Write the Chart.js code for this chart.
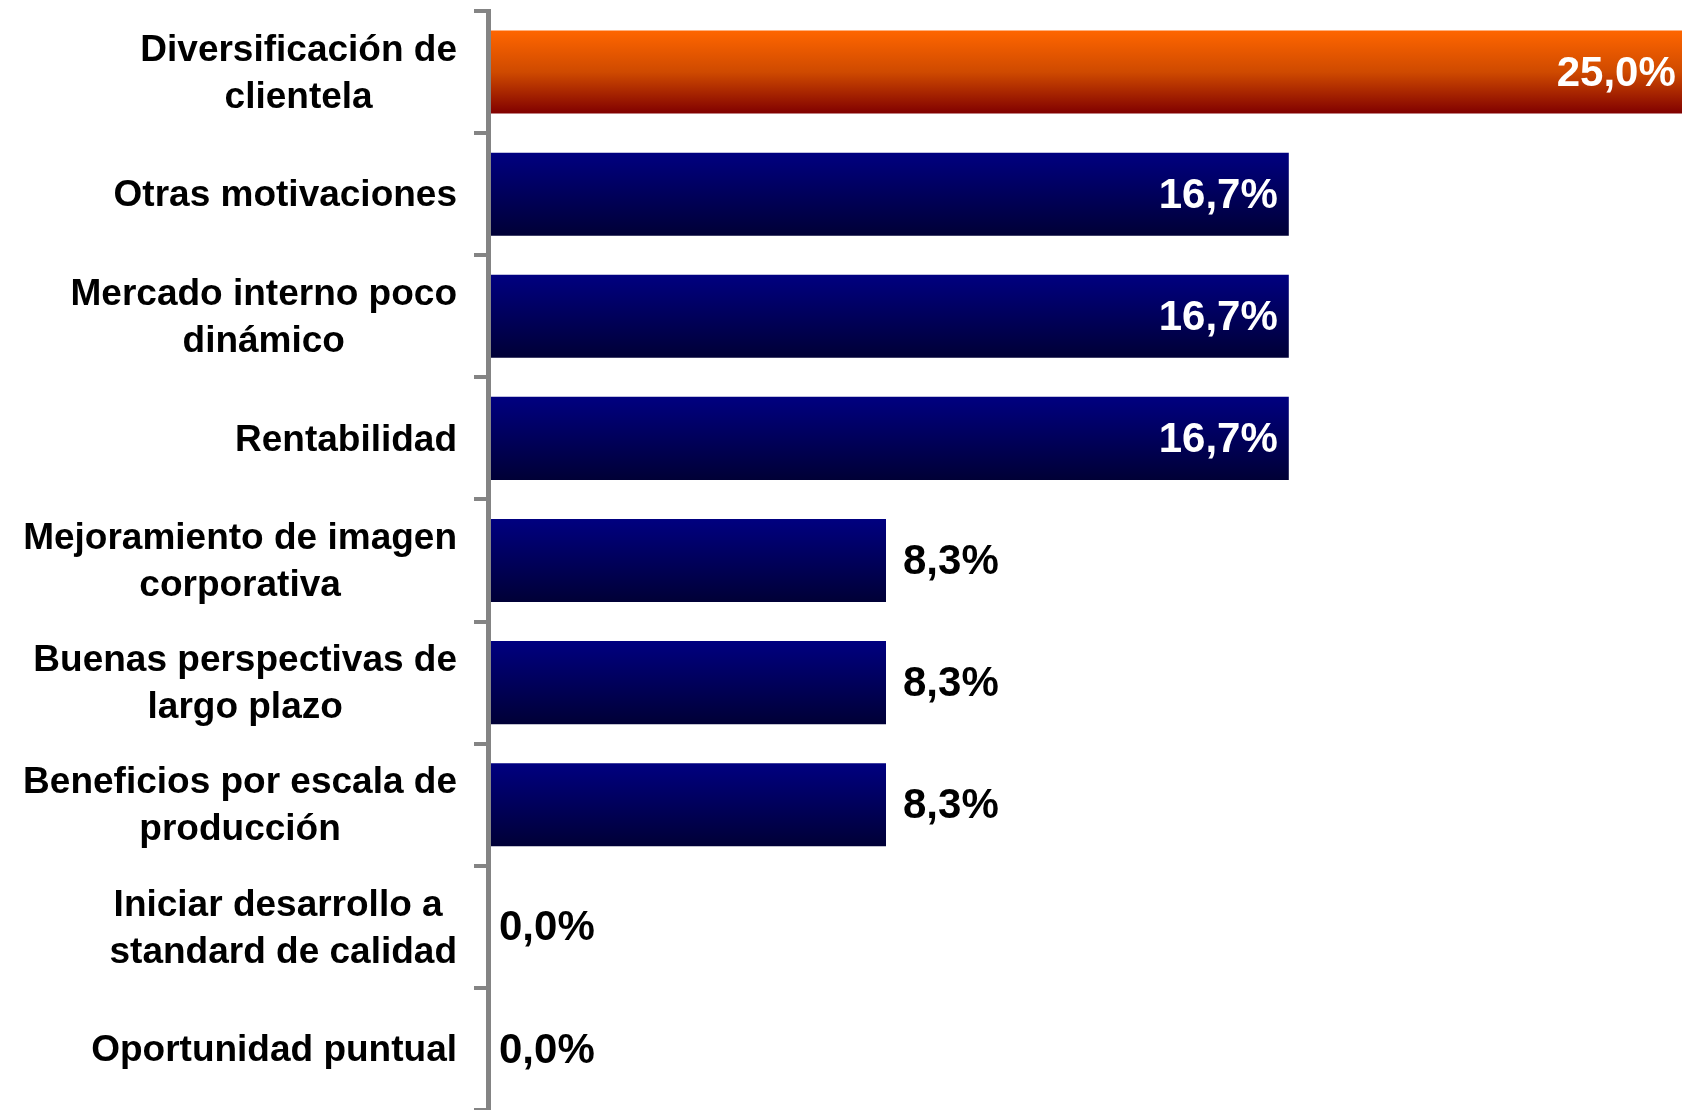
<!DOCTYPE html>
<html>
<head>
<meta charset="utf-8">
<script src="https://cdn.jsdelivr.net/npm/chart.js@4/dist/chart.umd.min.js"></script>
<style>
  html, body { margin: 0; padding: 0; background: #ffffff; }
  #wrap { width: 1682px; height: 1110px; }
</style>
</head>
<body>
<div id="wrap"><canvas id="c" width="1682" height="1110"></canvas></div>
<script>
// ---- Data ----
const categories = [
  ["Diversificación de", "clientela"],
  ["Otras motivaciones"],
  ["Mercado interno poco", "dinámico"],
  ["Rentabilidad"],
  ["Mejoramiento de imagen", "corporativa"],
  ["Buenas perspectivas de", "largo plazo"],
  ["Beneficios por escala de", "producción"],
  ["Iniciar desarrollo a ", "standard de calidad"],
  ["Oportunidad puntual"]
];
const values = [25.0, 16.7, 16.7, 16.7, 8.3, 8.3, 8.3, 0.0, 0.0];
const highlightIndex = [0];

// ---- Styles ----
const AXIS_COLOR = '#848484';
const LABEL_FONT = 'bold 37px "Liberation Sans", Arial, sans-serif';
const LABEL_LINE_HEIGHT = 47;
const VALUE_FONT = 'bold 42px "Liberation Sans", Arial, sans-serif';
const TICK_LEN = 14;
const LABEL_PAD = 17;
const AXIS_WIDTH = 488;
const BAR_PCT = 0.68;

function barGradient(ctx) {
  const chart = ctx.chart;
  const ys = chart.scales && chart.scales.y;
  const area = chart.chartArea;
  if (!ys || !area) return '#000080';
  const yc = ys.getPixelForValue(ctx.dataIndex);
  const h = (area.bottom - area.top) / categories.length * BAR_PCT;
  const g = chart.ctx.createLinearGradient(0, yc - h / 2, 0, yc + h / 2);
  if (highlightIndex.includes(ctx.dataIndex)) {
    g.addColorStop(0, '#FF6600');
    g.addColorStop(0.5, '#CF4A00');
    g.addColorStop(1, '#800000');
  } else {
    g.addColorStop(0, '#000080');
    g.addColorStop(1, '#000036');
  }
  return g;
}

const fmt = v => v.toFixed(1).replace('.', ',') + '%';

const valueLabels = {
  id: 'valueLabels',
  afterDatasetsDraw(chart) {
    const ctx = chart.ctx;
    const meta = chart.getDatasetMeta(0);
    ctx.save();
    ctx.font = VALUE_FONT;
    ctx.textBaseline = 'middle';
    meta.data.forEach((el, i) => {
      const v = values[i];
      const t = fmt(v);
      if (v > 12) {
        ctx.fillStyle = '#ffffff';
        ctx.textAlign = 'right';
        ctx.fillText(t, el.x - 11, el.y + 2);
      } else {
        ctx.fillStyle = '#000000';
        ctx.textAlign = 'left';
        ctx.fillText(t, el.x + (v > 0 ? 17 : 11), el.y + 2);
      }
    });
    ctx.restore();
  }
};

const categoryLabels = {
  id: 'categoryLabels',
  afterDraw(chart) {
    const ctx = chart.ctx;
    const ys = chart.scales.y;
    const xRight = ys.right - TICK_LEN - LABEL_PAD;
    ctx.save();
    ctx.font = LABEL_FONT;
    ctx.fillStyle = '#000000';
    ctx.textBaseline = 'middle';
    ctx.textAlign = 'center';
    categories.forEach((lines, i) => {
      const yc = ys.getPixelForValue(i);
      const widest = Math.max(...lines.map(l => ctx.measureText(l).width));
      const xc = xRight - widest / 2;
      lines.forEach((l, j) => {
        const y = yc + (j - (lines.length - 1) / 2) * LABEL_LINE_HEIGHT + 2;
        ctx.fillText(l, xc, y);
      });
    });
    ctx.restore();
  }
};

new Chart(document.getElementById('c'), {
  type: 'bar',
  data: {
    labels: categories,
    datasets: [{
      data: values,
      backgroundColor: barGradient,
      borderWidth: 0,
      barPercentage: BAR_PCT,
      categoryPercentage: 1.0
    }]
  },
  options: {
    indexAxis: 'y',
    responsive: false,
    devicePixelRatio: 1,
    animation: false,
    layout: { padding: { top: 11, left: 0, right: 0, bottom: 0 } },
    plugins: {
      legend: { display: false },
      tooltip: { enabled: false }
    },
    scales: {
      x: {
        display: false,
        min: 0,
        max: 24.9
      },
      y: {
        offset: true,
        grid: {
          z: 1,
          display: true,
          offset: true,
          drawOnChartArea: false,
          drawTicks: true,
          tickLength: TICK_LEN,
          tickWidth: 4,
          tickColor: AXIS_COLOR,
          color: AXIS_COLOR,
          lineWidth: 4
        },
        border: { z: 2, display: true, color: AXIS_COLOR, width: 5 },
        ticks: { display: false },
        afterFit(scale) { scale.width = AXIS_WIDTH; }
      }
    }
  },
  plugins: [valueLabels, categoryLabels]
});
</script>
</body>
</html>
